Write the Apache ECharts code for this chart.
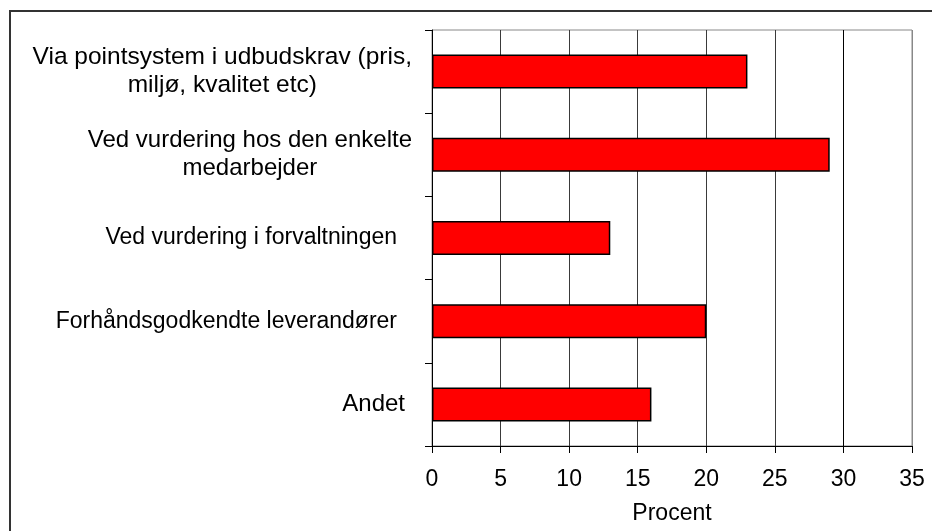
<!DOCTYPE html>
<html>
<head>
<meta charset="utf-8">
<script src="https://cdn.jsdelivr.net/npm/echarts@6/dist/echarts.min.js"></script>
<style>
html,body{margin:0;padding:0;background:#fff;}
#chart{width:932px;height:531px;}
</style>
</head>
<body>
<div id="chart"></div>
<script>
var categories = [
  "Via pointsystem i udbudskrav (pris,\nmiljø, kvalitet etc)",
  "Ved vurdering hos den enkelte\nmedarbejder",
  "Ved vurdering i forvaltningen",
  "Forhåndsgodkendte leverandører",
  "Andet"
];
var values = [23, 29, 13, 20, 16];
var xTicks = { min: 0, max: 35, interval: 5 };
var xAxisName = "Procent";

// label layout (right padding and font size per category label, px)
var labelRightPad = [0, 0, 15, 15, 7];
var labelFontSize = [24.5, 24, 23, 23, 24];

var FONT = "'Liberation Sans', Arial, sans-serif";
var chart = echarts.init(document.getElementById('chart'), null, { renderer: 'canvas' });

var rich = {};
labelRightPad.forEach(function (p, i) {
  rich['c' + i] = { align: 'center', fontFamily: FONT, fontSize: labelFontSize[i], lineHeight: 28, color: '#000', padding: [0, p, 0, 0] };
});

chart.setOption({
  backgroundColor: '#fff',
  animation: false,
  graphic: [{
    type: 'rect',
    shape: { x: 10, y: 11, width: 1000, height: 1000 },
    style: { fill: 'none', stroke: '#333', lineWidth: 2 },
    z: 0
  }],
  grid: {
    left: 432, right: 20, top: 30, bottom: 85,
    show: true, borderColor: '#888', borderWidth: 1, backgroundColor: 'transparent'
  },
  xAxis: {
    type: 'value',
    min: xTicks.min, max: xTicks.max, interval: xTicks.interval,
    name: xAxisName,
    nameLocation: 'middle',
    nameGap: 56,
    nameTextStyle: { fontFamily: FONT, fontSize: 23, color: '#000' },
    axisLine: { show: true, lineStyle: { color: '#000', width: 1 } },
    axisTick: { show: true, length: 7, lineStyle: { color: '#000' } },
    axisLabel: { fontFamily: FONT, fontSize: 23, color: '#000', margin: 22 },
    splitLine: { show: true, lineStyle: { color: ['#000', '#3a3a3a', '#3a3a3a', '#3a3a3a', '#3a3a3a', '#3a3a3a', '#000', '#888'], width: 1 } }
  },
  yAxis: {
    type: 'category',
    data: categories,
    inverse: true,
    axisLine: { show: true, lineStyle: { color: '#000', width: 1 } },
    axisTick: { show: true, length: 7, lineStyle: { color: '#000' } },
    axisLabel: {
      fontFamily: FONT, fontSize: 24, color: '#000', margin: 20, lineHeight: 28, align: 'right',
      formatter: function (val, idx) {
        return val.split('\n').map(function (l) { return '{c' + idx + '|' + l + '}'; }).join('\n');
      },
      rich: rich
    },
    splitLine: { show: false }
  },
  series: [{
    type: 'bar',
    data: values,
    barWidth: 34,
    itemStyle: { color: '#ff0000', borderColor: '#000', borderWidth: 1.5 }
  }]
});
</script>
</body>
</html>
